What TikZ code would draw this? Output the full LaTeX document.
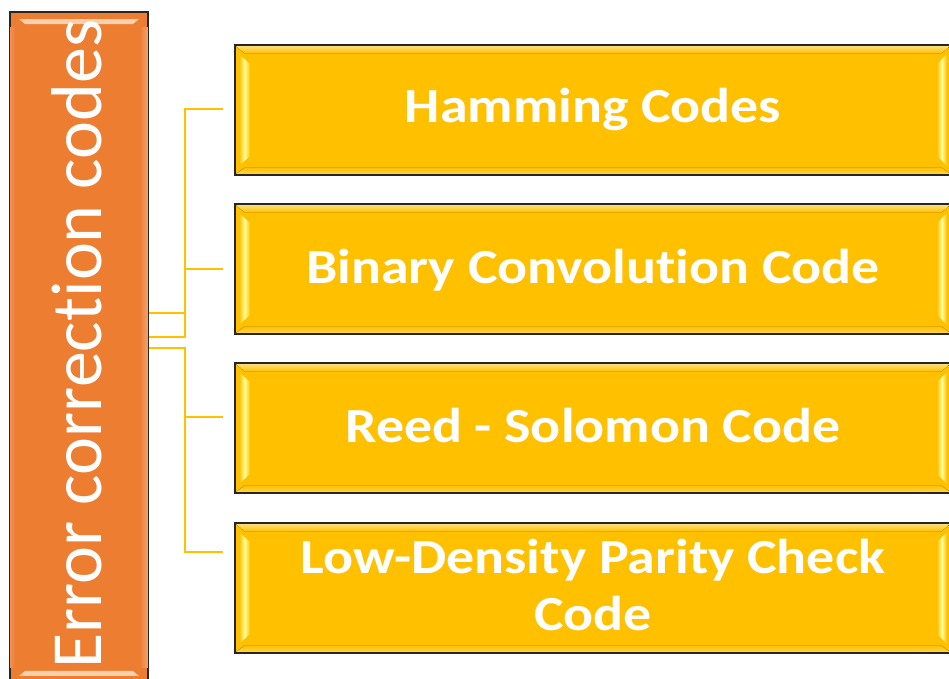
\documentclass[tikz,border=0pt]{standalone}
\usepackage{fontspec}
\setmainfont[Ligatures=NoCommon]{Carlito}
\usetikzlibrary{calc}

\definecolor{ecorange}{HTML}{ED7D31}
\definecolor{ecpeach}{HTML}{FAD0AC}
\definecolor{ecgold}{HTML}{FFC000}
\definecolor{ecglow}{HTML}{FFFF99}
\definecolor{ecedge}{HTML}{262626}

\tikzset{
  rootbox/.style={rectangle, draw=ecedge, line width=1.6pt, fill=ecorange,
    minimum width=138pt, minimum height=671pt, inner sep=0pt},
  itembox/.style={rectangle, draw=ecedge, line width=1.6pt, fill=ecgold,
    minimum width=716pt, minimum height=130pt, inner sep=0pt},
  itemtext/.style={text=white, anchor=base, inner sep=0pt,
    font=\bfseries\fontsize{49}{57}\selectfont},
  roottext/.style={text=white, anchor=base, inner sep=0pt, rotate=90,
    font=\fontsize{72}{80}\selectfont},
  link/.style={draw=ecgold, line width=2pt},
}

\newcommand{\itemlabel}[1]{\scalebox{1.14}[1]{\begin{tabular}[t]{@{}c@{}}#1\end{tabular}}}

\begin{document}
\begin{tikzpicture}[x=1pt, y=-1pt]
  \useasboundingbox (0,0) rectangle (949,679);
  \clip (0,0) rectangle (949,679);

  % root box on the left
  \node[rootbox] (ecc) at (79,347.5) {};
  % bevel facets of the root box
  \fill[ecpeach] ($(ecc.north west)+(10,8)$) -- ($(ecc.north east)+(-10,8)$)
     -- ($(ecc.north east)+(-16,13)$) -- ($(ecc.north west)+(16,13)$) -- cycle;
  \fill[ecpeach] ($(ecc.south west)+(10,-8)$) -- ($(ecc.south east)+(-10,-8)$)
     -- ($(ecc.south east)+(-16,-13)$) -- ($(ecc.south west)+(16,-13)$) -- cycle;
  \fill[left color=ecorange, right color=ecorange!70!white]
     ($(ecc.north east)+(-9,16)$) rectangle ($(ecc.south east)+(-1,-16)$);
  \fill[right color=ecorange, left color=ecorange!85!white]
     ($(ecc.north west)+(1,16)$) rectangle ($(ecc.south west)+(6,-16)$);
  \node[roottext] (ecct) at (101,344) {Error correction codes};

  % item boxes on the right
  \node[itembox] (b1) at (593,110) {};
  \node[itembox] (b2) at (593,269) {};
  \node[itembox] (b3) at (593,428) {};
  \node[itembox] (b4) at (593,588) {};

  % bevel facets of the item boxes
  \foreach \b in {b1,b2,b3,b4}{
    \fill[top color=ecgold!55!white, bottom color=ecgold]
      ($(\b.north west)+(2,2)$) -- ($(\b.north east)+(-2,2)$)
      -- ($(\b.north east)+(-10,9)$) -- ($(\b.north west)+(10,9)$) -- cycle;
    \fill[bottom color=ecgold!70!white, top color=ecgold]
      ($(\b.south west)+(10,-8)$) -- ($(\b.south east)+(-10,-8)$)
      -- ($(\b.south east)+(-2,-2)$) -- ($(\b.south west)+(2,-2)$) -- cycle;
    \shade[left color=ecgold, right color=ecgold, middle color=ecglow]
      ($(\b.north west)+(5,10)$) -- ($(\b.north west)+(16,20)$)
      -- ($(\b.south west)+(16,-20)$) -- ($(\b.south west)+(5,-10)$) -- cycle;
    \shade[left color=ecgold, right color=ecgold, middle color=ecglow]
      ($(\b.north east)+(-15,20)$) -- ($(\b.north east)+(-5,10)$)
      -- ($(\b.south east)+(-5,-10)$) -- ($(\b.south east)+(-15,-20)$) -- cycle;
  }

  \node[itemtext] (t1) at (593,123) {\itemlabel{Hamming Codes}};
  \node[itemtext] (t2) at (593,283) {\itemlabel{Binary Convolution Code}};
  \node[itemtext] (t3) at (593,442) {\itemlabel{Reed - Solomon Code}};
  \node[itemtext] (t4) at (593,573) {\itemlabel{Low-Density Parity Check\\Code}};

  % elbow connectors from the root box to each item
  \draw[link] ([yshift=34.5pt]ecc.east) -- ++(36,0) |- ([xshift=-11pt,yshift=1pt]b1.west);
  \draw[link] ([yshift=10.5pt]ecc.east) -- ++(36,0) |- ([xshift=-11pt]b2.west);
  \draw[link] ([yshift=-0.5pt]ecc.east) -- ++(36,0) |- ([xshift=-11pt,yshift=11pt]b3.west);
  \draw[link] ([yshift=-0.5pt]ecc.east) -- ++(36,0) |- ([xshift=-11pt,yshift=36pt]b4.west);
\end{tikzpicture}
\end{document}
